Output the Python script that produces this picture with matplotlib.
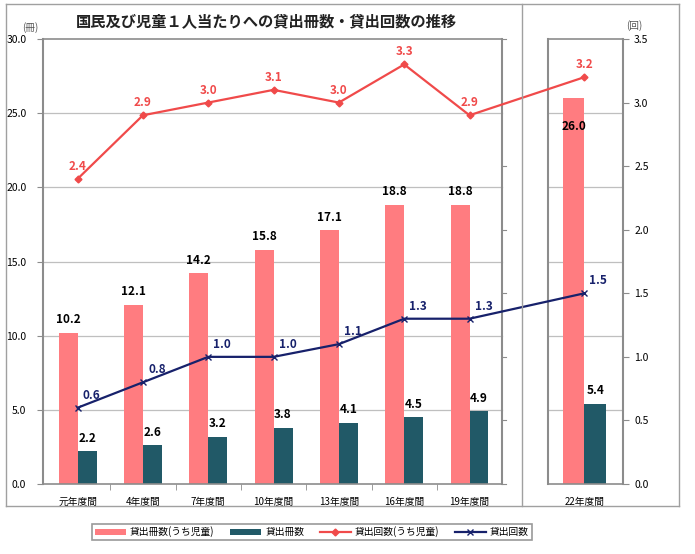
import numpy as np
import matplotlib.pyplot as plt
from matplotlib.lines import Line2D

plt.rcParams['font.family'] = ['Noto Sans CJK JP', 'DejaVu Sans']

# データ
categories = ['元年度間', '4年度間', '7年度間', '10年度間', '13年度間', '16年度間', '19年度間', '22年度間']
books_child = [10.2, 12.1, 14.2, 15.8, 17.1, 18.8, 18.8, 26.0]   # 貸出冊数(うち児童)
books_all = [2.2, 2.6, 3.2, 3.8, 4.1, 4.5, 4.9, 5.4]             # 貸出冊数
times_child = [2.4, 2.9, 3.0, 3.1, 3.0, 3.3, 2.9, 3.2]           # 貸出回数(うち児童)
times_all = [0.6, 0.8, 1.0, 1.0, 1.1, 1.3, 1.3, 1.5]             # 貸出回数

c_bar1 = '#FF7C80'
c_bar2 = '#215967'
c_line1 = '#F04A4A'
c_line2 = '#17216B'
c_frame = '#8C8C8C'
c_grid = '#BFBFBF'

# 22年度間は別枠に置く
x = np.array([0, 1, 2, 3, 4, 5, 6, 7.76])
w = np.array([0.29] * 7 + [0.33])
left_lo, left_hi = -0.53, 6.49
right_lo, right_hi = 7.20, 8.35

fig = plt.figure(figsize=(6.95, 5.54), dpi=100)
ax = fig.add_axes([43 / 695, 1 - 484 / 554, 580 / 695, 445 / 554])
ax2 = ax.twinx()

# 棒グラフ
b1 = ax.bar(x - w / 2, books_child, w, color=c_bar1, zorder=3, label='貸出冊数(うち児童)')
b2 = ax.bar(x + w / 2, books_all, w, color=c_bar2, zorder=3, label='貸出冊数')

for i in range(len(x)):
    if i == 7:
        ax.annotate(f'{books_child[i]:.1f}', (x[i] - w[i] / 2, books_child[i]), xytext=(0, -20),
                    textcoords='offset points', ha='center', va='center', fontsize=8.5, fontweight='bold')
    else:
        ax.annotate(f'{books_child[i]:.1f}', (x[i] - w[i] / 2, books_child[i]), xytext=(0, 9.5),
                    textcoords='offset points', ha='center', va='center', fontsize=8.5, fontweight='bold')
    ax.annotate(f'{books_all[i]:.1f}', (x[i] + w[i] / 2, books_all[i]), xytext=(0, 9.5),
                textcoords='offset points', ha='center', va='center', fontsize=8.5, fontweight='bold')

# 折れ線
l1, = ax2.plot(x, times_child, color=c_line1, lw=1.6, marker='D', ms=3.5, zorder=5,
               label='貸出回数(うち児童)')
l2, = ax2.plot(x, times_all, color=c_line2, lw=1.6, marker='x', ms=5, mew=1, zorder=5,
               label='貸出回数')
for i in range(len(x)):
    ax2.annotate(f'{times_child[i]:.1f}', (x[i], times_child[i]), xytext=(0, 9),
                 textcoords='offset points', ha='center', va='center', fontsize=8.5,
                 fontweight='bold', color=c_line1)
    ax2.annotate(f'{times_all[i]:.1f}', (x[i], times_all[i]), xytext=(10, 9),
                 textcoords='offset points', ha='center', va='center', fontsize=8.5,
                 fontweight='bold', color=c_line2)

ax.set_xlim(left_lo, right_hi)
ax.set_ylim(0, 30)
ax2.set_ylim(0, 3.5)

# 枠とグリッド
for a in (ax, ax2):
    for s in a.spines.values():
        s.set_visible(False)
for lo, hi in ((left_lo, left_hi), (right_lo, right_hi)):
    for yv in range(5, 30, 5):
        ax.plot([lo, hi], [yv, yv], color=c_grid, lw=0.9, zorder=1)
    ax.plot([lo, hi], [0, 0], color=c_frame, lw=1.2, zorder=4, clip_on=False)
    ax.plot([lo, hi], [30, 30], color=c_frame, lw=1.2, zorder=4, clip_on=False)
    ax.plot([lo, lo], [0, 30], color=c_frame, lw=1.5, zorder=4, clip_on=False)
    ax.plot([hi, hi], [0, 30], color=c_frame, lw=1.5, zorder=4, clip_on=False)

# 左枠の右側の目盛り
for yv in np.arange(0, 3.51, 0.5):
    ax2.plot([left_hi, left_hi + 0.07], [yv, yv], color=c_frame, lw=0.8, clip_on=False)

ax.set_yticks(np.arange(0, 30.1, 5))
ax.set_yticklabels([f'{v:.1f}' for v in np.arange(0, 30.1, 5)], fontsize=7.5)
ax2.set_yticks(np.arange(0, 3.51, 0.5))
ax2.set_yticklabels([f'{v:.1f}' for v in np.arange(0, 3.51, 0.5)], fontsize=7.5)
ax.tick_params(axis='y', length=4, color=c_frame, pad=8)
ax2.tick_params(axis='y', length=4, color=c_frame, pad=4)

ax.set_xticks(x)
ax.set_xticklabels(categories, fontsize=7)
ax.set_xticks([0.5, 1.5, 2.5, 3.5, 4.5, 5.5], minor=True)
ax.tick_params(axis='x', which='major', length=0, pad=9)
ax.tick_params(axis='x', which='minor', length=4, color=c_frame)

fig.text(30 / 695, 1 - 28 / 554, '(冊)', fontsize=7, color='#555555', ha='center', va='center')
fig.text(634 / 695, 1 - 26 / 554, '(回)', fontsize=7, color='#555555', ha='center', va='center')
fig.text(266 / 695, 1 - 21 / 554, '国民及び児童１人当たりへの貸出冊数・貸出回数の推移',
         fontsize=11, fontweight='bold', color='#222222', ha='center', va='center')

# 外枠
def fline(xs, ys):
    fig.add_artist(Line2D([v / 695 for v in xs], [1 - v / 554 for v in ys], color='#A0A0A0', lw=1))

fline([6, 679], [4, 4])
fline([6, 6], [4, 506])
fline([6, 679], [506, 506])
fline([679, 679], [4, 506])
fline([522, 522], [4, 506])

leg = fig.legend(handles=[b1, b2, l1, l2], loc='center', bbox_to_anchor=(312 / 695, 1 - 532 / 554),
                 ncol=4, fontsize=7, frameon=True, fancybox=False, edgecolor='#808080',
                 handlelength=3.2, columnspacing=1.6, borderpad=0.3, handletextpad=0.4)
leg.get_frame().set_linewidth(1.2)

fig.savefig('out.png', dpi=100)
